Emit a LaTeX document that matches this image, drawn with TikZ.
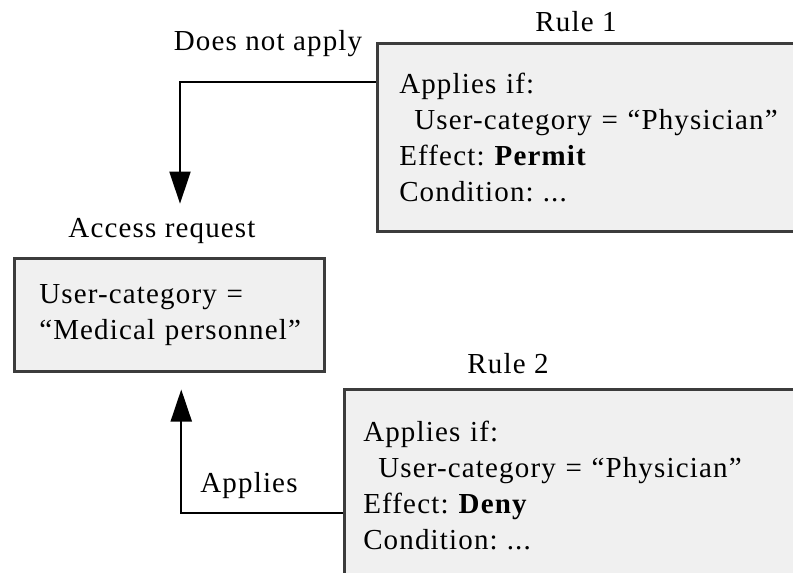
\documentclass[tikz,border=0pt]{standalone}
\usepackage{fontspec}
\setmainfont{Liberation Serif}[LetterSpace=4,Ligatures=TeX]
\usetikzlibrary{arrows.meta,positioning}
\definecolor{boxfill}{RGB}{240,240,240}
\definecolor{boxline}{RGB}{60,60,60}
\newcommand{\gap}{\hspace{9pt}}

\begin{document}
\begin{tikzpicture}[
  x=1pt,y=-1pt,
  every node/.style={font=\fontsize{29}{36}\selectfont},
  rulebox/.style={
    draw=boxline,
    line width=2.5pt,
    fill=boxfill,
    align=left,
    inner ysep=0pt,
    anchor=north west
  },
  caption/.style={anchor=base,inner sep=0pt},
  flow/.style={-{Triangle[length=32pt,width=21pt]},line width=2pt}
]
\useasboundingbox (0,0) rectangle (793,573);
\fill[white] (0,0) rectangle (793,573);
\clip (0,0) rectangle (793,573);

% the request and the two rules
\node[rulebox,text width=260pt,inner xsep=25pt,minimum height=113pt] (req) at (13,257)
  {User-category =\\``Medical personnel''};
\node[rulebox,text width=430pt,inner xsep=22pt,minimum height=188pt] (rule1) at (376,42)
  {Applies if:\\\hspace*{15pt}User-category = ``Physician''\\Effect:\gap\textbf{Permit}\\Condition:\gap...};
\node[rulebox,text width=460pt,inner xsep=19pt,minimum height=193pt] (rule2) at (343,388)
  {Applies if:\\\hspace*{15pt}User-category = ``Physician''\\Effect:\gap\textbf{Deny}\\Condition:\gap...};

% titles
\node[caption] (reqtitle) at (162,237) {Access request};
\node[caption] (rule1title) at (576,31) {Rule 1};
\node[caption] (rule2title) at (508,373) {Rule 2};

% outcomes
\draw[flow,shorten >=14pt] ([yshift=-40pt]rule1.north west) -| ([xshift=18pt]reqtitle.north);
\draw[flow,shorten >=17pt] ([yshift=-125pt]rule2.north west) -| ([xshift=12pt]req.south);
\node[caption] (noapply) at (268,50) {Does not apply};
\node[caption] (applies) at (249,492) {Applies};
\end{tikzpicture}
\end{document}
